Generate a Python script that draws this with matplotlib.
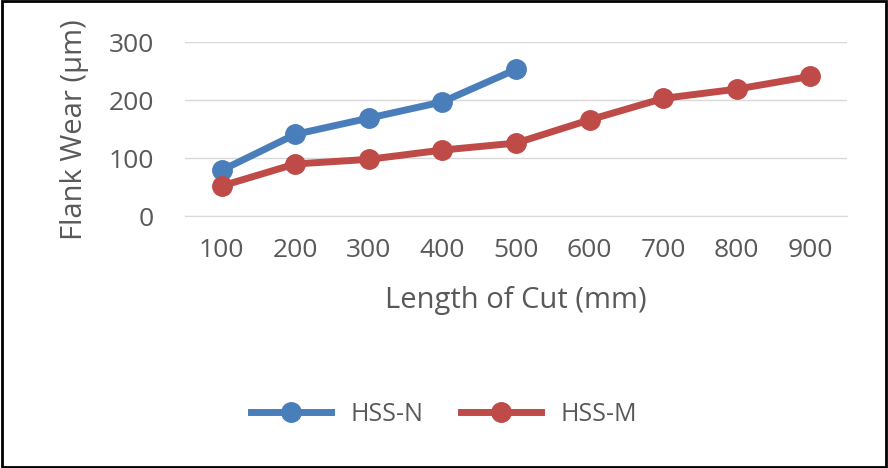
import matplotlib
matplotlib.use("Agg")
import matplotlib.pyplot as plt

lengths = ["100", "200", "300", "400", "500", "600", "700", "800", "900"]
hss_n = [79, 141, 169, 197, 253]
hss_m = [52, 90, 98, 114, 126, 166, 203, 219, 241]
yticks = [0, 100, 200, 300]

plt.rcParams["font.family"] = "Open Sans"
fig = plt.figure(figsize=(8.88, 4.68), dpi=100)
ax = fig.add_axes([0.208, 0.538, 0.746, 0.372])
xs = list(range(1, len(lengths) + 1))
ax.plot(xs[:len(hss_n)], hss_n, color="#4a7ebb", lw=5, marker="o", ms=14, label="HSS-N")
ax.plot(xs, hss_m, color="#be4b48", lw=5, marker="o", ms=14, label="HSS-M")
ax.set_xlim(0.5, 9.5)
ax.set_ylim(0, 300)
ax.set_yticks(yticks)
ax.set_xticks(xs)
ax.set_xticklabels(lengths)
ax.tick_params(length=0, labelsize=19, colors="#595959", pad=16)
ax.tick_params(axis="y", pad=22)
ax.grid(axis="y", color="#d9d9d9", lw=1)
ax.set_axisbelow(True)
for s in ["top", "right", "left"]:
    ax.spines[s].set_visible(False)
ax.spines["bottom"].set_color("#d9d9d9")
ax.set_xlabel("Length of Cut (mm)", fontsize=21, color="#595959", labelpad=16)
ax.set_ylabel("Flank Wear (µm)", fontsize=21, color="#595959", labelpad=14)
fig.legend(loc="center", bbox_to_anchor=(0.5, 0.115), ncol=2, frameon=False,
           fontsize=18, labelcolor="#595959", handlelength=3.2, columnspacing=1.5)
fig.patches.append(plt.Rectangle((0.002, 0.003), 0.996, 0.994, transform=fig.transFigure,
                                 fill=False, ec="black", lw=2))
fig.savefig("out.png", dpi=100)
